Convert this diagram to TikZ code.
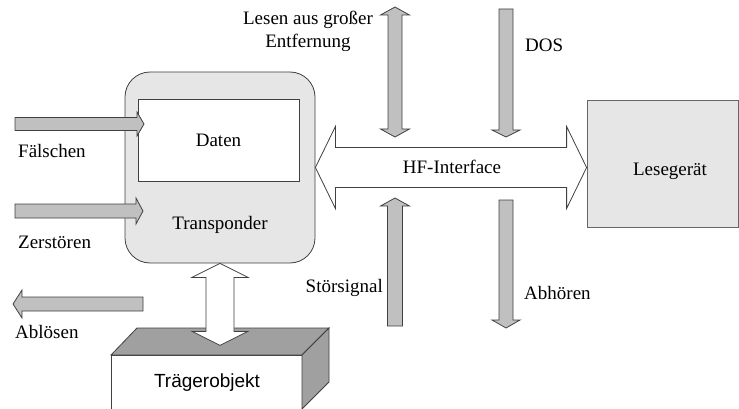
\documentclass[tikz,border=0pt]{standalone}
\usepackage{fontspec}
\setmainfont{Liberation Serif}
\setsansfont{Liberation Sans}
\usetikzlibrary{calc}

\definecolor{boxgray}{HTML}{E6E6E6}
\definecolor{arrgray}{HTML}{C0C0C0}
\definecolor{topgray}{HTML}{A0A0A0}
\definecolor{edgegray}{HTML}{404040}

\tikzset{
  lbl/.style={inner sep=0pt, font=\fontsize{19}{23}\selectfont},
  blk/.style={draw=edgegray, line width=0.8pt, line join=miter, fill=arrgray},
  % block arrow: shaft half width / head half width / head length
  onehead/.style args={#1/#2/#3}{to path={
    -- ($(\tikztostart)!#1!90:(\tikztotarget)$)
    -- ($(\tikztotarget)!#3!(\tikztostart)!#1!90:(\tikztotarget)$)
    -- ($(\tikztotarget)!#3!(\tikztostart)!#2!90:(\tikztotarget)$)
    -- (\tikztotarget)
    -- ($(\tikztotarget)!#3!(\tikztostart)!#2!-90:(\tikztotarget)$)
    -- ($(\tikztotarget)!#3!(\tikztostart)!#1!-90:(\tikztotarget)$)
    -- ($(\tikztostart)!#1!-90:(\tikztotarget)$)
    -- cycle}},
  twohead/.style args={#1/#2/#3}{to path={
    -- ($(\tikztostart)!#3!(\tikztotarget)!#2!90:(\tikztotarget)$)
    -- ($(\tikztostart)!#3!(\tikztotarget)!#1!90:(\tikztotarget)$)
    -- ($(\tikztotarget)!#3!(\tikztostart)!#1!90:(\tikztotarget)$)
    -- ($(\tikztotarget)!#3!(\tikztostart)!#2!90:(\tikztotarget)$)
    -- (\tikztotarget)
    -- ($(\tikztotarget)!#3!(\tikztostart)!#2!-90:(\tikztotarget)$)
    -- ($(\tikztotarget)!#3!(\tikztostart)!#1!-90:(\tikztotarget)$)
    -- ($(\tikztostart)!#3!(\tikztotarget)!#1!-90:(\tikztotarget)$)
    -- ($(\tikztostart)!#3!(\tikztotarget)!#2!-90:(\tikztotarget)$)
    -- cycle}},
}

\begin{document}
\begin{tikzpicture}[x=1pt,y=-1pt]
\useasboundingbox (0,0) rectangle (739,409);
%\draw [help lines, step=50] (0,0) grid (739,409);

% carrier object
\draw[fill=white, line width=0.8pt, draw=edgegray] (111,409) -- (111,355) -- (302,355) -- (302,409);
\filldraw[fill=topgray, draw=edgegray, line width=0.8pt] (111,355) -- (137,328) -- (329,328) -- (302,355) -- cycle;
\filldraw[fill=topgray, draw=edgegray, line width=0.8pt] (302,355) -- (329,328) -- (329,382) -- (302,409) -- cycle;
\node[lbl, font=\fontsize{19}{23}\selectfont\sffamily] (traeger) at (207,383) {Trägerobjekt};

% transponder
\node[draw=edgegray, fill=boxgray, line width=0.8pt, rounded corners=25pt,
      minimum width=190pt, minimum height=191pt] (trans) at (220,167.5) {};
\node[draw=edgegray, fill=white, line width=0.8pt, lbl,
      minimum width=161pt, minimum height=82pt] (daten) at (218.5,140) {Daten};
\node[lbl] (translbl) at (220,225) {Transponder};

% reader
\node[draw=edgegray!80, fill=boxgray, line width=0.8pt,
      minimum width=151pt, minimum height=127pt] (lese) at (662.5,163.5) {};
\node[lbl] (leselbl) at (670,171) {Lesegerät};

% end points
\coordinate (hfA) at (trans.east);
\coordinate (hfB) at (lese.west |- trans.east);
\coordinate (trA) at (trans.south);
\coordinate (trB) at ($(trans.south)+(0,82)$);
\coordinate (faA) at (15,124);
\coordinate (faB) at (144,124);
\coordinate (zeA) at (15,211);
\coordinate (zeB) at (143,211);
\coordinate (abA) at (143,304);
\coordinate (abB) at (13,304);
\coordinate (leA) at (395,7);
\coordinate (leB) at (395,137);
\coordinate (doA) at (506,9);
\coordinate (doB) at (506,137);
\coordinate (stA) at (395,326);
\coordinate (stB) at (395,198);
\coordinate (ahA) at (506,200);
\coordinate (ahB) at (506,328);

% block arrows
\draw[blk, fill=white] (hfA) to[twohead=20pt/41pt/20pt] (hfB);
\draw[blk, fill=white] (trA) to[twohead=14pt/28pt/14pt] (trB);
\draw[blk] (faA) to[onehead=6.5pt/12pt/7pt] (faB);
\draw[blk] (zeA) to[onehead=7pt/13pt/7pt] (zeB);
\draw[blk] (abA) to[onehead=7pt/14pt/9pt] (abB);
\draw[blk] (leA) to[twohead=7pt/14.5pt/8pt] (leB);
\draw[blk] (doA) to[onehead=7pt/14pt/7pt] (doB);
\draw[blk] (stA) to[onehead=7.5pt/14.5pt/8pt] (stB);
\draw[blk] (ahA) to[onehead=7pt/14pt/8pt] (ahB);

% labels
\node[lbl] (hflbl) at (452,167) {HF-Interface};
\node[lbl, anchor=west] (falbl) at (18,151) {Fälschen};
\node[lbl, anchor=west] (zelbl) at (18,242) {Zerstören};
\node[lbl, anchor=west] (ablbl) at (15,332) {Ablösen};
\node[lbl, align=center] (lelbl) at (308,31) {Lesen aus großer\\Entfernung};
\node[lbl, anchor=west] (dolbl) at (525,45) {DOS};
\node[lbl, anchor=east] (stlbl) at (383,288) {Störsignal};
\node[lbl, anchor=west] (ahlbl) at (524,293) {Abhören};

\end{tikzpicture}
\end{document}
